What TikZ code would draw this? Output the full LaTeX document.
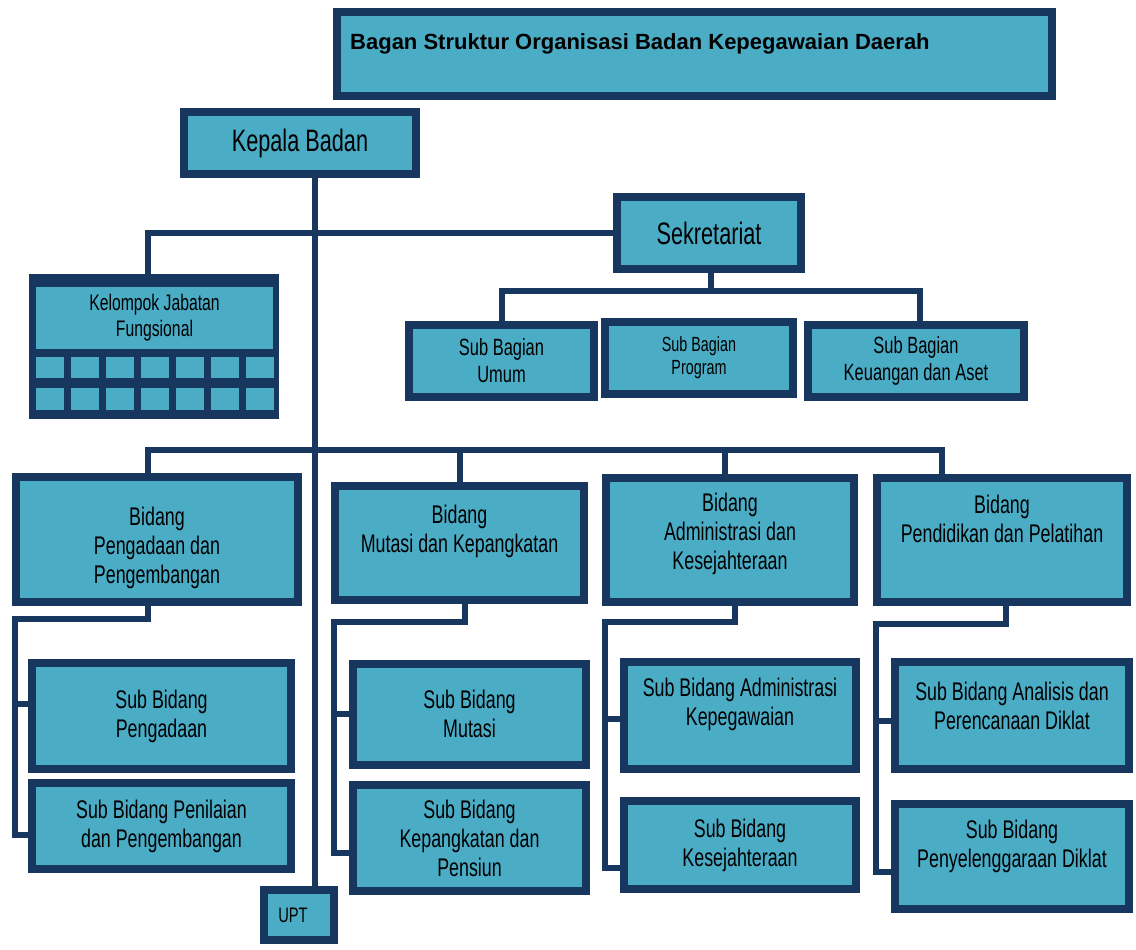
\documentclass[tikz,border=0pt]{standalone}
\usepackage{fontspec}
\setmainfont{Liberation Sans}
\newfontfamily\narrowfont{Liberation Sans}[FakeStretch=0.7]
\usetikzlibrary{calc}

\definecolor{navy}{HTML}{17375E}
\definecolor{aqua}{HTML}{4BACC6}

\begin{document}
\begin{tikzpicture}[
        x = 1pt, y = -1pt, % pixel units, y downwards
        box/.style = {
            draw = navy,
            fill = aqua,
            line width = 8pt,
            inner sep = 0pt,
            align = center,
            font = \narrowfont\fontsize{25.5}{29}\selectfont
        },
        txt/.style = {inner sep = 0pt, align = center, font = \narrowfont\fontsize{25.5}{29}\selectfont},
        small/.style = {font = \narrowfont\fontsize{23.5}{27}\selectfont},
        link/.style = {draw = navy, line width = 6pt}, % connector lines
        cell/.style = {fill = aqua, inner sep = 0pt, minimum width = 28pt}
    ]
    \useasboundingbox (0,0) rectangle (1136,950);

    % top level
    \node[box, minimum width = 715pt, minimum height = 84pt] (judul) at (694.5,54) {};
    \node[anchor = west, inner sep = 0pt, font = \bfseries\fontsize{22}{26}\selectfont] (judul-t) at (350,44)
        {Bagan Struktur Organisasi Badan Kepegawaian Daerah};
    \node[box, minimum width = 232pt, minimum height = 62pt, font = \narrowfont\fontsize{31}{34}\selectfont] (kepala) at (300,143) {Kepala Badan};
    \node[box, minimum width = 184pt, minimum height = 72pt, font = \narrowfont\fontsize{31}{34}\selectfont] (sekr) at (709,233) {Sekretariat};

    % kelompok jabatan fungsional
    \node[fill = navy, inner sep = 0pt, minimum width = 250pt, minimum height = 145pt] (kjf) at (154,346.5) {};
    \node[fill = aqua, inner sep = 0pt, minimum width = 237pt, minimum height = 62pt, align = center,
        font = \narrowfont\fontsize{22.5}{26}\selectfont] (kjf-t) at (154.5,318) {Kelompok Jabatan\\Fungsional};
    \foreach \i in {0,...,6} {
        \node[cell, minimum height = 21pt] (cell-a\i) at (49.5+35*\i,367.5) {};
        \node[cell, minimum height = 22pt] (cell-b\i) at (49.5+35*\i,399) {};
    }

    % sub bagian
    \node[box, small, minimum width = 185pt, minimum height = 72pt] (sbu) at (501.5,361) {Sub Bagian\\Umum};
    \node[box, minimum width = 188pt, minimum height = 72pt, font = \narrowfont\fontsize{20.5}{23}\selectfont] (sbp) at (699,358) {Sub Bagian\\Program};
    \node[box, small, minimum width = 216pt, minimum height = 72pt] (sbk) at (916,361) {Sub Bagian\\Keuangan dan Aset};

    % bidang
    \node[box, minimum width = 282pt, minimum height = 125pt] (bpeng) at (157,539.5) {};
    \node[txt] (bpeng-t) at ([yshift=-8pt]bpeng.center) {Bidang\\Pengadaan dan\\Pengembangan};
    \node[box, minimum width = 249pt, minimum height = 114pt] (bmut) at (459.5,543) {};
    \node[txt] (bmut-t) at ([yshift=12pt]bmut.center) {Bidang\\Mutasi dan Kepangkatan};
    \node[box, minimum width = 248pt, minimum height = 124pt] (badm) at (730,540) {};
    \node[txt] (badm-t) at ([yshift=6pt]badm.center) {Bidang\\Administrasi dan\\Kesejahteraan};
    \node[box, minimum width = 250pt, minimum height = 124pt] (bpend) at (1002,540) {};
    \node[txt] (bpend-t) at ([yshift=21pt]bpend.center) {Bidang\\Pendidikan dan Pelatihan};

    % sub bidang
    \node[box, minimum width = 259pt, minimum height = 106pt] (sbpeng) at (161.5,716) {Sub Bidang\\Pengadaan};
    \node[box, minimum width = 259pt, minimum height = 86pt] (sbpen) at (161.5,826) {Sub Bidang Penilaian\\dan Pengembangan};
    \node[box, minimum width = 233pt, minimum height = 101pt] (sbmut) at (469.5,714) {Sub Bidang\\Mutasi};
    \node[box, minimum width = 233pt, minimum height = 106pt] (sbkep) at (469.5,838) {Sub Bidang\\Kepangkatan dan\\Pensiun};
    \node[box, minimum width = 232pt, minimum height = 107pt] (sbadm) at (740,715.5) {};
    \node[txt] (sbadm-t) at ([yshift=11pt]sbadm.center) {Sub Bidang Administrasi\\Kepegawaian};
    \node[box, minimum width = 232pt, minimum height = 88pt] (sbkes) at (740,845) {Sub Bidang\\Kesejahteraan};
    \node[box, minimum width = 234pt, minimum height = 107pt] (sbana) at (1012,715.5) {};
    \node[txt] (sbana-t) at ([yshift=10pt]sbana.center) {Sub Bidang Analisis dan\\Perencanaan Diklat};
    \node[box, minimum width = 234pt, minimum height = 105pt] (sbpel) at (1012,856.5) {};
    \node[txt] (sbpel-t) at ([yshift=10pt]sbpel.center) {Sub Bidang\\Penyelenggaraan Diklat};

    \node[box, minimum width = 70pt, minimum height = 50pt, font = \narrowfont\fontsize{21}{24}\selectfont] (upt) at (299,915) {\hspace*{-12pt}UPT};

    % garis komando
    \draw[link] ([xshift=15pt]kepala.south) -- ([xshift=16pt]upt.north);
    \draw[link] (sekr.west) -| ([xshift=-6pt]kjf.north);
    \coordinate (sb-bar) at (711,291);
    \draw[link] ([xshift=2pt]sekr.south) -- (sb-bar);
    \draw[link] (sbu.north) |- (sb-bar) -| ([xshift=4pt]sbk.north);

    \coordinate (bid-bar) at (315,450);
    \draw[link] ([xshift=-9pt]bpeng.north) |- (bid-bar) -| ([xshift=-60pt]bpend.north);
    \draw[link] (bmut.north) -- (bmut.north |- bid-bar);
    \draw[link] ([xshift=-5pt]badm.north) -- ++(0,-24);

    % bidang ke sub bidang
    \coordinate (peng-siku) at (15,619);
    \draw[link] ([xshift=-9pt]bpeng.south) |- (peng-siku) |- ([yshift=-9pt]sbpen.west);
    \draw[link] ([yshift=12pt]sbpeng.west) -- ++(-13,0);

    \coordinate (mut-siku) at (334,622);
    \draw[link] ([xshift=5pt]bmut.south) |- (mut-siku) |- ([yshift=-15pt]sbkep.west);
    \draw[link] (sbmut.west) -- ++(-15,0);

    \coordinate (adm-siku) at (605,622);
    \draw[link] ([xshift=5pt]badm.south) |- (adm-siku) |- ([yshift=-23pt]sbkes.west);
    \draw[link] ([yshift=-3pt]sbadm.west) -- ++(-15,0);

    \coordinate (pend-siku) at (876,624);
    \draw[link] ([xshift=4pt]bpend.south) |- (pend-siku) |- ([yshift=-15pt]sbpel.west);
    \draw[link] ([yshift=-5pt]sbana.west) -- ++(-15,0);
\end{tikzpicture}
\end{document}
